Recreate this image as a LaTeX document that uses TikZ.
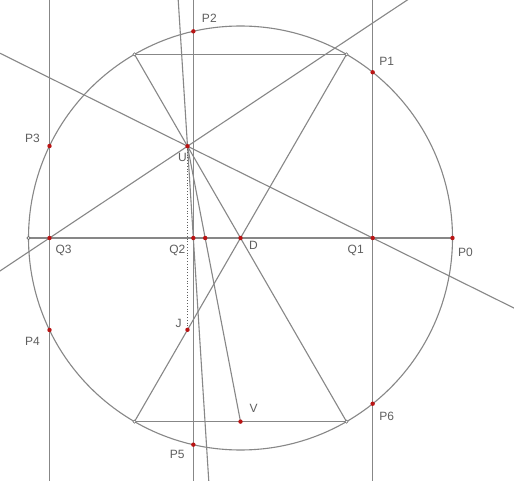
\documentclass[tikz,border=0pt]{standalone}
\usepackage{fontspec}
\setmainfont{Liberation Sans}
\usetikzlibrary{calc}
\definecolor{ln}{RGB}{135,135,135}
\definecolor{pt}{RGB}{185,20,20}
\definecolor{tx}{RGB}{95,95,95}
\begin{document}
\begin{tikzpicture}[x=1pt,y=1pt,
  geo/.style={draw=ln,line width=1.1pt},
  dotpt/.style={fill=pt},
  cornerpt/.style={draw=ln!80!black,line width=0.6pt,fill=white},
  lbl/.style={text=tx,font=\fontsize{12}{12}\selectfont,inner sep=0pt}]
\useasboundingbox (0,0) rectangle (514,480);
\clip (0,0) rectangle (514,480);
\fill[white] (0,0) rectangle (514,480);
\def\R{212}
\coordinate (O) at (240.5,242);
\foreach \k in {0,...,6}{\coordinate (P\k) at ($(O)+({360*\k/7}:\R)$);}
\coordinate (W) at ($(O)+(180:\R)$);
\coordinate (A) at ($(O)+(120:\R)$);
\coordinate (B) at ($(O)+(60:\R)$);
\coordinate (C) at ($(O)+(240:\R)$);
\coordinate (E) at ($(O)+(300:\R)$);
\coordinate (U) at ($(O)+(120:\R/2)$);
\coordinate (J) at ($(O)+(240:\R/2)$);
\coordinate (V) at ($(C)!0.5!(E)$);
\path (P1) |- (O) coordinate[pos=0.5] (Q1);
\path (P2) |- (O) coordinate[pos=0.5] (Q2);
\path (P3) |- (O) coordinate[pos=0.5] (Q3);
\coordinate (X) at (intersection of U--V and W--P0);
% circle
\draw[geo] (O) circle (\R);
% vertical lines
\draw[geo] (Q1 |- 0,-5) -- (Q1 |- 0,485);
\draw[geo] (Q2 |- 0,-5) -- (Q2 |- 0,485);
\draw[geo] (Q3 |- 0,-5) -- (Q3 |- 0,485);
% horizontal diameter
\draw[geo] (W) -- (P0);
% rectangle sides and diagonals
\draw[geo] (A) -- (B);
\draw[geo] (C) -- (E);
\draw[geo] (A) -- (E);
\draw[geo] (B) -- (C);
% lines through U
\draw[geo] ($(U)!-8!(Q1)$) -- ($(U)!8!(Q1)$);
\draw[geo] ($(U)!-8!(Q3)$) -- ($(U)!8!(Q3)$);
\draw[geo] ($(U)!-8!(Q2)$) -- ($(U)!8!(Q2)$);
\draw[geo] (U) -- (V);
\draw[ln!70!black,line width=0.8pt,dotted] (U) -- (J);
% corner markers
\foreach \p in {A,B,C,E,W}{\draw[cornerpt] (\p) circle (1.6);}
% red points
\foreach \p in {P0,P1,P2,P3,P4,P5,P6,Q1,Q2,Q3,U,J,V,O,X}{\fill[dotpt] (\p) circle (2.2);}
% labels
\node[lbl] (lP0) at ($(P0)+(13,-14)$) {P0};
\node[lbl] (lP1) at ($(P1)+(14,11)$) {P1};
\node[lbl] (lP2) at ($(P2)+(16,13)$) {P2};
\node[lbl] (lP3) at ($(P3)+(-17,8)$) {P3};
\node[lbl] (lP4) at ($(P4)+(-17,-11)$) {P4};
\node[lbl] (lP5) at ($(P5)+(-16,-10)$) {P5};
\node[lbl] (lP6) at ($(P6)+(14,-13)$) {P6};
\node[lbl] (lQ1) at ($(Q1)+(-17,-12)$) {Q1};
\node[lbl] (lQ2) at ($(Q2)+(-16,-12)$) {Q2};
\node[lbl] (lQ3) at ($(Q3)+(14,-12)$) {Q3};
\node[lbl] (lU) at ($(U)+(-5,-11)$) {U};
\node[lbl] (lJ) at ($(J)+(-9,6)$) {J};
\node[lbl] (lV) at ($(V)+(13,13)$) {V};
\node[lbl] (lO) at ($(O)+(13,-7)$) {D};
\end{tikzpicture}
\end{document}
